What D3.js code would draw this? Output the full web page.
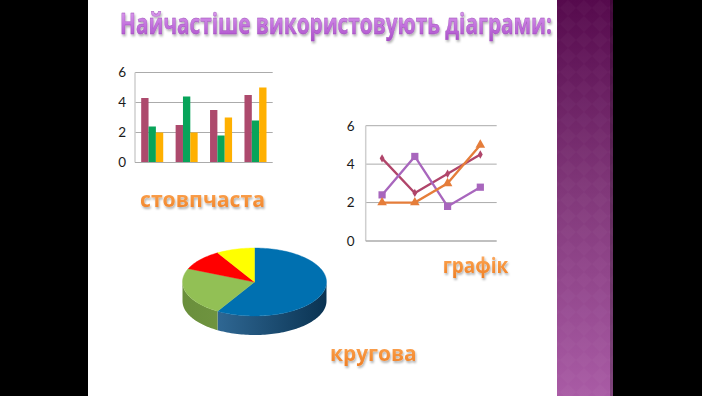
<!DOCTYPE html>
<html><head><meta charset="utf-8">
<script src="https://cdn.jsdelivr.net/npm/d3@7"></script>
<style>html,body{margin:0;padding:0;background:#000;overflow:hidden}</style>
</head><body><svg id="c" width="702" height="396"></svg>
<script>
// ---- data ----
const categories = ["Категорія 1", "Категорія 2", "Категорія 3", "Категорія 4"];
const series1 = [4.3, 2.5, 3.5, 4.5];
const series2 = [2.4, 4.4, 1.8, 2.8];
const series3 = [2, 2, 3, 5];
const yTicks = [0, 2, 4, 6];
const pieLabels = ["Кв. 1", "Кв. 2", "Кв. 3", "Кв. 4"];
const pieValues = [8.2, 3.2, 1.4, 1.2];
const titleText = "Найчастіше використовують діаграми:";
const labelBar = "стовпчаста";
const labelLine = "графік";
const labelPie = "кругова";

const barColors = ["#AD4A6D", "#08A45A", "#FFB000"];
const lineColors = ["#B0456A", "#A866BD", "#E57D3A"];
const pieColors = ["#0070B0", "#92C055", "#FF0000", "#FFFF00"];
const pieSide = [["#3B78A8", "#0A3352"], ["#6A8F3C", "#7EA24A"], ["#B00000", "#C00000"], ["#B0B000", "#C0C000"]];

const svg = d3.select("#c");
const defs = svg.append("defs");

// background
svg.append("rect").attr("x", 0).attr("y", 0).attr("width", 702).attr("height", 396).attr("fill", "#000");
svg.append("rect").attr("x", 88).attr("y", 0).attr("width", 470).attr("height", 396).attr("fill", "#fff");

// purple strip
const pg = defs.append("linearGradient").attr("id", "pg").attr("x1", 0).attr("y1", 0).attr("x2", 0).attr("y2", 1);
pg.append("stop").attr("offset", 0).attr("stop-color", "#560A4D");
pg.append("stop").attr("offset", 0.5).attr("stop-color", "#82397B");
pg.append("stop").attr("offset", 1).attr("stop-color", "#A95BA5");
const pat = defs.append("pattern").attr("id", "dia").attr("width", 16).attr("height", 16).attr("patternUnits", "userSpaceOnUse");
pat.append("path").attr("d", "M8 0 L16 8 L8 16 L0 8 Z").attr("fill", "#fff").attr("opacity", 0.025);
svg.append("rect").attr("x", 557).attr("y", 0).attr("width", 56).attr("height", 396).attr("fill", "url(#pg)");
svg.append("rect").attr("x", 557).attr("y", 0).attr("width", 56).attr("height", 396).attr("fill", "url(#dia)");
svg.append("rect").attr("x", 610).attr("y", 0).attr("width", 3).attr("height", 396).attr("fill", "#000").attr("opacity", 0.25);

// filters
const sh = defs.append("filter").attr("id", "sh").attr("x", "-10%").attr("y", "-20%").attr("width", "120%").attr("height", "160%");
sh.append("feDropShadow").attr("dx", 1).attr("dy", 2).attr("stdDeviation", 1.2).attr("flood-color", "#000").attr("flood-opacity", 0.3);

// title
const tg = defs.append("linearGradient").attr("id", "tg").attr("x1", 0).attr("y1", 0).attr("x2", 0).attr("y2", 1);
tg.append("stop").attr("offset", 0).attr("stop-color", "#E4B0F2");
tg.append("stop").attr("offset", 0.55).attr("stop-color", "#C474DE");
tg.append("stop").attr("offset", 1).attr("stop-color", "#A94DC8");
svg.append("text").attr("x", 120).attr("y", 33.5)
  .attr("font-family", "Open Sans").attr("font-weight", "bold").attr("font-size", 28)
  .attr("textLength", 432).attr("lengthAdjust", "spacingAndGlyphs")
  .attr("fill", "url(#tg)").attr("stroke", "#9A4AB5").attr("stroke-width", 0.4)
  .attr("filter", "url(#sh)").text(titleText);

// orange labels
const og = defs.append("linearGradient").attr("id", "og").attr("x1", 0).attr("y1", 0).attr("x2", 0).attr("y2", 1);
og.append("stop").attr("offset", 0).attr("stop-color", "#FDBE8C");
og.append("stop").attr("offset", 0.5).attr("stop-color", "#F8973F");
og.append("stop").attr("offset", 1).attr("stop-color", "#EE7E25");
function orangeLabel(txt, x, y, len) {
  svg.append("text").attr("x", x).attr("y", y)
    .attr("font-family", "Open Sans").attr("font-weight", "bold").attr("font-size", 22)
    .attr("textLength", len).attr("lengthAdjust", "spacingAndGlyphs")
    .attr("fill", "url(#og)").attr("filter", "url(#sh)").text(txt);
}
orangeLabel(labelBar, 140, 206.7, 125);
orangeLabel(labelLine, 442.7, 272.7, 65.6);
orangeLabel(labelPie, 330, 360.7, 86.7);

// ---- bar chart ----
const bx = d3.scaleBand().domain(categories).range([135, 272.7]).paddingInner(0.36).paddingOuter(0.18);
const by = d3.scaleLinear().domain([0, 6]).range([162.5, 72.5]);
const bSeries = [series1, series2, series3];
const bx1 = d3.scaleBand().domain(d3.range(bSeries.length)).range([0, bx.bandwidth()]);
const gBar = svg.append("g");
gBar.selectAll("line.grid").data(yTicks.filter(d => d > 0)).join("line")
  .attr("x1", 135).attr("x2", 272.7).attr("y1", d => by(d)).attr("y2", d => by(d))
  .attr("stroke", "#ABABAB").attr("stroke-width", 1);
gBar.append("line").attr("x1", 135).attr("x2", 135).attr("y1", by(6)).attr("y2", by(0)).attr("stroke", "#CFCFCF").attr("stroke-width", 1.5);
bSeries.forEach((s, si) => {
  gBar.selectAll("rect.s" + si).data(s).join("rect")
    .attr("x", (d, i) => bx(categories[i]) + bx1(si)).attr("width", bx1.bandwidth())
    .attr("y", d => by(d)).attr("height", d => by(0) - by(d)).attr("fill", barColors[si]);
});
gBar.append("line").attr("x1", 135).attr("x2", 272.7).attr("y1", by(0)).attr("y2", by(0)).attr("stroke", "#ABABAB").attr("stroke-width", 1.2);
const axB = svg.append("g").attr("transform", "translate(135,0)")
  .call(d3.axisLeft(by).tickValues(yTicks).tickSize(0).tickPadding(9).tickFormat(d3.format("d")));
axB.select(".domain").remove();
axB.selectAll("text").attr("font-family", "Lato").attr("font-size", 13.5).attr("fill", "#1a1a1a");

// ---- line chart ----
const lx = d3.scalePoint().domain(categories).range([365.7, 496.7]).padding(0.5);
const ly = d3.scaleLinear().domain([0, 6]).range([241, 125.7]);
const gLine = svg.append("g");
gLine.selectAll("line.grid").data(yTicks.filter(d => d > 0)).join("line")
  .attr("x1", 365.7).attr("x2", 496.7).attr("y1", d => ly(d)).attr("y2", d => ly(d))
  .attr("stroke", "#ABABAB").attr("stroke-width", 1);
gLine.append("line").attr("x1", 365.7).attr("x2", 365.7).attr("y1", ly(6)).attr("y2", ly(0)).attr("stroke", "#CFCFCF").attr("stroke-width", 1.5);
gLine.append("line").attr("x1", 365.7).attr("x2", 496.7).attr("y1", ly(0)).attr("y2", ly(0)).attr("stroke", "#ABABAB").attr("stroke-width", 1.6);
const axL = svg.append("g").attr("transform", "translate(365.7,0)")
  .call(d3.axisLeft(ly).tickValues(yTicks).tickSize(0).tickPadding(11).tickFormat(d3.format("d")));
axL.select(".domain").remove();
axL.selectAll("text").attr("font-family", "Lato").attr("font-size", 13.5).attr("fill", "#1a1a1a");
const symbols = [d3.symbolDiamond, d3.symbolSquare, d3.symbolTriangle];
const symSizes = [20, 52, 40];
const lineGen = d3.line().x((d, i) => lx(categories[i])).y(d => ly(d));
[series1, series2, series3].forEach((s, si) => {
  gLine.append("path").attr("d", lineGen(s)).attr("fill", "none").attr("stroke", lineColors[si]).attr("stroke-width", 2.3);
});
[series1, series2, series3].forEach((s, si) => {
  gLine.selectAll("path.m" + si).data(s).join("path")
    .attr("transform", (d, i) => `translate(${lx(categories[i])},${ly(d)})`)
    .attr("d", d3.symbol().type(symbols[si]).size(symSizes[si])).attr("fill", lineColors[si]);
});

// ---- 3D pie ----
const cx = 254.5, cy = 282, rx = 72, ry = 34, depth = 19;
const arcs = d3.pie().sort(null).value(d => d)(pieValues);
function pt(a, dy) { return [cx + rx * Math.sin(a), cy - ry * Math.cos(a) + dy]; }
function arcPts(a0, a1, dy) {
  const n = Math.max(2, Math.ceil(Math.abs(a1 - a0) / 0.03));
  return d3.range(n + 1).map(k => pt(a0 + (a1 - a0) * k / n, dy));
}
const gPie = svg.append("g");
arcs.forEach((a, i) => {
  const s0 = Math.max(a.startAngle, Math.PI / 2), s1 = Math.min(a.endAngle, 3 * Math.PI / 2);
  if (s0 < s1) {
    const gid = "ps" + i;
    const g = defs.append("linearGradient").attr("id", gid).attr("gradientUnits", "userSpaceOnUse")
      .attr("x1", cx - rx).attr("y1", 0).attr("x2", cx + rx).attr("y2", 0);
    g.append("stop").attr("offset", 0).attr("stop-color", pieSide[i][0]);
    g.append("stop").attr("offset", 1).attr("stop-color", pieSide[i][1]);
    const pts = arcPts(s0, s1, 0).concat(arcPts(s1, s0, depth));
    gPie.append("path").attr("d", "M" + pts.map(p => p.join(",")).join("L") + "Z").attr("fill", "url(#" + gid + ")");
  }
});
arcs.forEach((a, i) => {
  const pts = [[cx, cy]].concat(arcPts(a.startAngle, a.endAngle, 0));
  gPie.append("path").attr("d", "M" + pts.map(p => p.join(",")).join("L") + "Z")
    .attr("fill", pieColors[i]).attr("stroke", pieColors[i]).attr("stroke-width", 0.4);
});
</script></body></html>
